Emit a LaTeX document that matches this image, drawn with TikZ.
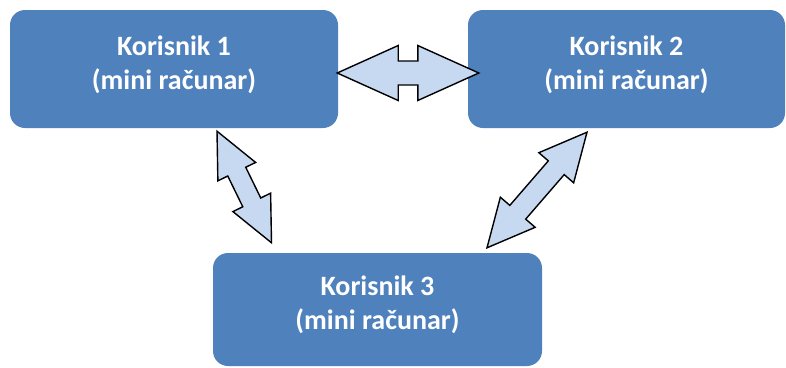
\documentclass[tikz,border=0pt]{standalone}
\usepackage{fontspec}
\setmainfont{Carlito}
\usetikzlibrary{calc}
\definecolor{boxblue}{HTML}{4F81BD}
\definecolor{arrowfill}{HTML}{C6D9F1}
% Double-headed block arrow between two tip points:
% #1,#2 tips, #3 head length, #4 head half width, #5 shaft half width
\newcommand\blockarrow[5]{%
  \coordinate (ba-h1) at ($(#1)!#3!(#2)$);
  \coordinate (ba-h2) at ($(#2)!#3!(#1)$);
  \draw[blockarrow] (#1)
    -- ($(ba-h1)!#4!90:(#2)$) -- ($(ba-h1)!#5!90:(#2)$)
    -- ($(ba-h2)!#5!-90:(#1)$) -- ($(ba-h2)!#4!-90:(#1)$)
    -- (#2)
    -- ($(ba-h2)!#4!90:(#1)$) -- ($(ba-h2)!#5!90:(#1)$)
    -- ($(ba-h1)!#5!-90:(#2)$) -- ($(ba-h1)!#4!-90:(#2)$)
    -- cycle;
}
\begin{document}
\begin{tikzpicture}[x=1pt,y=-1pt,
  userbox/.style={fill=boxblue, draw=none, rounded corners=15pt,
    text=white, align=center, inner sep=0pt, text depth=13pt,
    font=\bfseries\fontsize{28}{34}\selectfont},
  blockarrow/.style={fill=arrowfill, draw=black, line width=1.4pt, line join=miter}]
\useasboundingbox (0,0) rectangle (786,367);

% user boxes
\node[userbox, minimum width=328pt, minimum height=118pt] (k1) at (174,69)
  {Korisnik 1\\(mini računar)};
\node[userbox, minimum width=317pt, minimum height=118pt] (k2) at (626.5,69)
  {Korisnik 2\\(mini računar)};
\node[userbox, minimum width=329pt, minimum height=113pt] (k3) at (377.5,309.5)
  {Korisnik 3\\(mini računar)};

% arrow tips
\coordinate (t12a) at ([xshift=-1pt,yshift=-4pt]k1.east);
\coordinate (t12b) at ([xshift=11pt,yshift=-4pt]k2.west);
\coordinate (t13a) at ([xshift=43pt,yshift=-3pt]k1.south);
\coordinate (t13b) at ([xshift=-106pt,yshift=10pt]k3.north);
\coordinate (t23a) at ([xshift=-39.5pt,yshift=-4pt]k2.south);
\coordinate (t23b) at ([xshift=109.5pt,yshift=5pt]k3.north);

% connections
\blockarrow{t12a}{t12b}{61pt}{27.5pt}{12pt}
\blockarrow{t13a}{t13b}{45pt}{21pt}{10pt}
\blockarrow{t23a}{t23b}{47pt}{23pt}{10.5pt}
\end{tikzpicture}
\end{document}
